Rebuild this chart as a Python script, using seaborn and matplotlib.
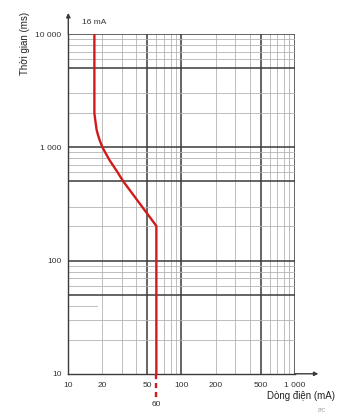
import numpy as np
import pandas as pd
import matplotlib
matplotlib.use("Agg")
import matplotlib.pyplot as plt
import matplotlib.transforms as mtransforms
import seaborn as sns

# ---- data ----
current_ma = [17, 17, 17.3, 17.8, 18.3, 18.9, 20, 23.1, 27, 30.6, 60, 60]
time_ms = [10000, 2000, 1740, 1420, 1285, 1160, 1000, 772, 610, 500, 202, 10]
x_ticks = [10, 20, 50, 100, 200, 500, 1000]
x_tick_labels = ["10", "20", "50", "100", "200", "500", "1 000"]
y_ticks = [10, 100, 1000, 10000]
y_tick_labels = ["10", "100", "1 000", "10 000"]
rated_label = "16 mA"
trip_current = 60
trip_label = "60"
x_title = "Dòng điện (mA)"
y_title = "Thời gian (ms)"

sns.set_style("white")
plt.rcParams["font.family"] = ["Liberation Sans", "DejaVu Sans"]

RED = "#d21a1a"
DARK = "#3a3a3a"
THIN = "#b3b3b3"
TXT = "#333333"

df = pd.DataFrame({"current": current_ma, "time": time_ms})

fig = plt.figure(figsize=(3.45, 4.2), dpi=100)
ax = fig.add_axes([0.198, 0.110, 0.656, 0.809])
ax.set_xscale("log")
ax.set_yscale("log")
ax.set_xlim(10, 1000)
ax.set_ylim(10, 10000)

# grid: vertical lines
for d in [10, 100]:
    for k in range(1, 10):
        v = k * d
        if v <= 10 or v >= 1000:
            continue
        bold = k in (1, 5)
        ax.axvline(v, color=DARK if bold else THIN, lw=1.1 if bold else 0.6, zorder=1)
ax.axvline(1000, color=DARK, lw=1.1, zorder=1)
# grid: horizontal lines (the 4-multiples are absent in the original)
for d in [10, 100, 1000]:
    for k in range(1, 10):
        v = k * d
        if v <= 10 or k == 4:
            continue
        bold = k in (1, 5)
        ax.axhline(v, color=DARK if bold else THIN, lw=1.1 if bold else 0.6, zorder=1)
ax.axhline(10000, color=DARK, lw=1.1, zorder=1)
ax.axhline(40, xmin=0, xmax=0.125, color=THIN, lw=0.6, zorder=1)

sns.lineplot(data=df, x="current", y="time", sort=False, estimator=None,
             color=RED, lw=1.7, ax=ax, zorder=5)

ax.set_xlabel("")
ax.set_ylabel("")
ax.set_xticks(x_ticks)
ax.set_xticklabels(x_tick_labels)
ax.set_yticks(y_ticks)
ax.set_yticklabels(y_tick_labels)
ax.xaxis.set_minor_locator(matplotlib.ticker.NullLocator())
ax.yaxis.set_minor_locator(matplotlib.ticker.NullLocator())
ax.tick_params(axis="both", which="major", labelsize=6, colors=TXT,
               length=3, width=0.8, pad=2, direction="out")
ax.tick_params(axis="x", pad=3)
for s in ["top", "right"]:
    ax.spines[s].set_visible(False)
for s in ["left", "bottom"]:
    ax.spines[s].set_color(DARK)
    ax.spines[s].set_linewidth(1.0)

# axis arrows
ax.annotate("", xy=(0, 1.062), xytext=(0, 1.0), xycoords="axes fraction",
            arrowprops=dict(arrowstyle="-|>", color=DARK, lw=1.0,
                            mutation_scale=6, shrinkA=0, shrinkB=0))
ax.annotate("", xy=(1.105, 0), xytext=(1.0, 0), xycoords="axes fraction",
            arrowprops=dict(arrowstyle="-|>", color=DARK, lw=1.0,
                            mutation_scale=6, shrinkA=0, shrinkB=0))

# dashed red extension below the axis
trans = mtransforms.blended_transform_factory(ax.transData, ax.transAxes)
ax.plot([trip_current, trip_current], [0.0, -0.072], transform=trans,
        color=RED, lw=1.7, ls=(0, (2.2, 1.6)), clip_on=False, zorder=6)
ax.text(trip_current, -0.09, trip_label, transform=trans, ha="center",
        va="center", fontsize=6, color=TXT)
ax.text(current_ma[0], 1.035, rated_label, transform=trans, ha="center",
        va="center", fontsize=6, color=TXT)

fig.text(25 / 345, 1 - 43 / 420, y_title, rotation=90, ha="center",
         va="center", fontsize=7, color="#222222")
fig.text(301 / 345, 1 - 396 / 420, x_title, ha="center", va="center",
         fontsize=7, color="#222222")
fig.text(322 / 345, 1 - 410 / 420, "B/C", ha="center", va="center",
         fontsize=3.5, color="#999999", style="italic")

fig.savefig("out.png", dpi=100, facecolor="white")
